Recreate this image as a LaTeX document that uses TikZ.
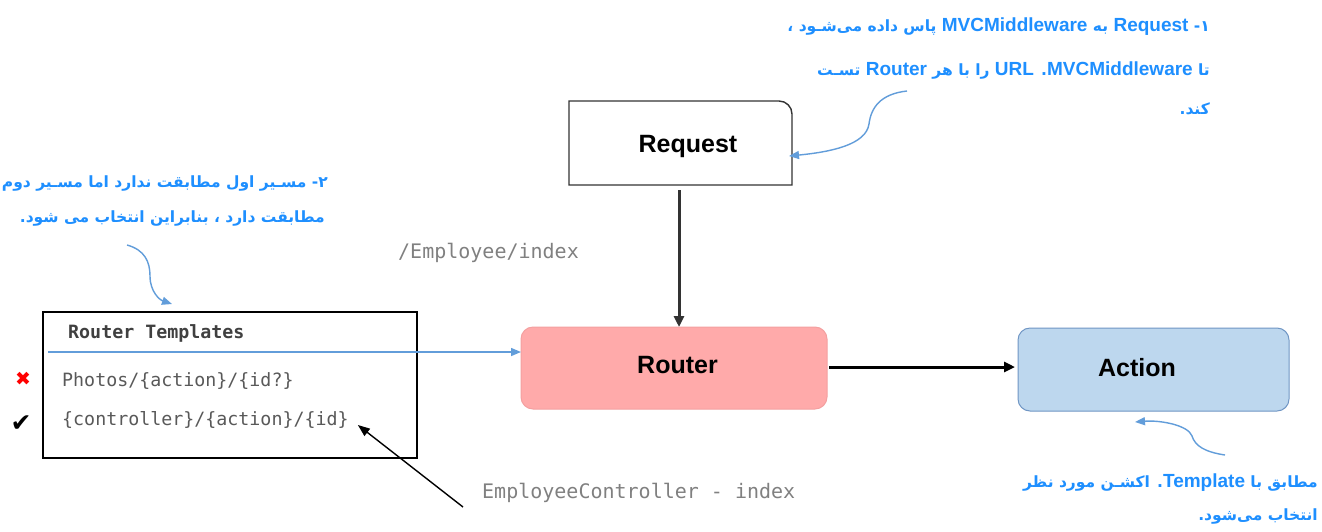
\documentclass[tikz,border=0pt]{standalone}
\usepackage{fontspec}
\setmainfont{Liberation Sans}
\newfontfamily\fa[Script=Arabic]{DejaVu Sans}
\newfontfamily\latf{Liberation Sans}
\newfontfamily\monof{DejaVu Sans Mono}
\newfontfamily\symf{DejaVu Sans}
\TeXXeTstate=1
\usetikzlibrary{arrows.meta}

\definecolor{noteblue}{RGB}{30,143,255}
\definecolor{curveblue}{RGB}{98,157,218}
\definecolor{routerfill}{RGB}{255,170,170}
\definecolor{routerline}{RGB}{244,160,160}
\definecolor{actionfill}{RGB}{189,215,238}
\definecolor{actionline}{RGB}{112,150,196}
\definecolor{codegray}{RGB}{89,89,89}
\definecolor{pathgray}{RGB}{128,128,128}
\definecolor{headgray}{RGB}{64,64,64}
\definecolor{boxline}{RGB}{51,51,51}

% Latin word inside a Persian note
\newcommand\lw[1]{{\latf\bfseries\fontsize{19}{19}\selectfont #1}}

\tikzset{
  note/.style={anchor=base east, inner sep=0pt, text=noteblue,
    font=\fa\bfseries\fontsize{15.5}{15.5}\selectfont},
  boxlabel/.style={anchor=base, inner sep=0pt, font=\latf\bfseries\fontsize{25}{25}\selectfont},
  codetext/.style={anchor=base west, inner sep=0pt, text=codegray, font=\monof\fontsize{18.3}{18.3}\selectfont},
  pathtext/.style={anchor=base west, inner sep=0pt, text=pathgray, font=\monof\fontsize{20}{20}\selectfont},
  shapeonly/.style={inner sep=0pt, outer sep=0pt},
  thickarrow/.style={line width=3pt, -{Triangle[length=11pt,width=10pt]}},
  bluearrow/.style={draw=curveblue, line width=1.4pt, -{Triangle[length=10pt,width=8pt]}},
  thinarrow/.style={line width=1.4pt, -{Triangle[length=12pt,width=9pt]}},
}

\begin{document}
\begin{tikzpicture}[x=1pt,y=-1pt]
\useasboundingbox[fill=white] (0,0) rectangle (1322,531);

% ---- Request box (only the top right corner is rounded)
\node[shapeonly, minimum width=223pt, minimum height=84pt] (req) at (680.5,143) {};
\draw[boxline, line width=1.4pt] (req.south west) -- (req.north west)
  [rounded corners=13pt] -- (req.north east) [sharp corners] -- (req.south east) -- cycle;
\node[boxlabel] (reqtext) at (688,152) {Request};

% ---- Router
\node[shapeonly, draw=routerline, fill=routerfill, line width=1pt, rounded corners=12pt,
  minimum width=306pt, minimum height=82pt] (rt) at (674,368) {};
\node[boxlabel] (rttext) at (677.5,373) {Router};

% ---- Action
\node[shapeonly, draw=actionline, fill=actionfill, line width=1pt, rounded corners=12pt,
  minimum width=271pt, minimum height=83pt] (act) at (1153.5,369.5) {};
\node[boxlabel] (acttext) at (1137,376) {Action};

% ---- Router templates
\node[shapeonly, draw=black, line width=1.4pt, minimum width=374pt, minimum height=146pt] (tpl) at (230,385) {};
\node[codetext, text=headgray, font=\monof\bfseries\fontsize{18.3}{18.3}\selectfont] (tplhead) at (68,338) {Router Templates};
\node[codetext] (photos) at (62,386) {Photos/\{action\}/\{id?\}};
\node[codetext] (ctrl) at (62,425) {\{controller\}/\{action\}/\{id\}};
\node[text=red, inner sep=0pt, font=\symf\fontsize{19}{19}\selectfont] (xmark) at (23,379) {✖};
\node[inner sep=0pt, font=\symf\fontsize{25}{25}\selectfont] (ckmark) at (21,424) {✔};

% ---- path labels
\node[pathtext] (urlpath) at (398,258) {/Employee/index};
\node[pathtext] (ecindex) at (482,498) {EmployeeController - index};

% ---- connectors
\draw[thickarrow, draw=boxline] ([shift={(-1.5,5)}]req.south) -- ([shift={(5,0)}]rt.north);
\draw[thickarrow, draw=black] ([shift={(2,-1)}]rt.east) -- ([shift={(-3,-2.5)}]act.west);

\coordinate (tplrule) at (48,352);
\draw[bluearrow] (tplrule) -- (tplrule -| rt.west);

\coordinate (ecfrom) at (463,507);
\draw[thinarrow] (ecfrom) -- ([shift={(9,0)}]ctrl.base east);

% ---- notes
\node[note] (n1a) at (1210,31) {\beginR ۱\kern0pt- \lw{Request} به \lw{MVCMiddleware} پاس داده می‌شـود ،\endR};
\node[note] (n1b) at (1210,75) {\beginR تا \lw{MVCMiddleware}\kern0pt. \lw{URL} را با هر \lw{Router} تسـت\endR};
\node[note] (n1c) at (1210,114) {\beginR کند\kern0pt.\endR};

\node[note] (n2a) at (328,187) {\beginR ۲\kern0pt- مسـیر اول مطابقت ندارد اما مسـیر دوم\endR};
\node[note] (n2b) at (325,222) {\beginR مطابقت دارد ، بنابراین انتخاب می شود\kern0pt.\endR};

\node[note] (n3a) at (1318,487) {\beginR مطابق با \lw{Template}\kern0pt. اکشـن مورد نظر\endR};
\node[note] (n3b) at (1318,520) {\beginR انتخاب می‌شود\kern0pt.\endR};

% ---- note pointers
\coordinate (c1from) at (907,91);
\draw[bluearrow] (c1from) .. controls (880,94) and (871,108) .. (869,124)
  .. controls (866,145) and (830,152) .. ([shift={(-3,13)}]req.east);

\coordinate (c2from) at (127,245);
\draw[bluearrow] (c2from) .. controls (145,250) and (150,262) .. (150,276)
  .. controls (150,292) and (160,300) .. ([shift={(-58,-8)}]tpl.north);

\coordinate (c3from) at (1225,455);
\draw[bluearrow] (c3from) .. controls (1205,452) and (1195,446) .. (1192,436)
  .. controls (1188,425) and (1160,420) .. ([shift={(-18.5,11)}]act.south);
\end{tikzpicture}
\end{document}
